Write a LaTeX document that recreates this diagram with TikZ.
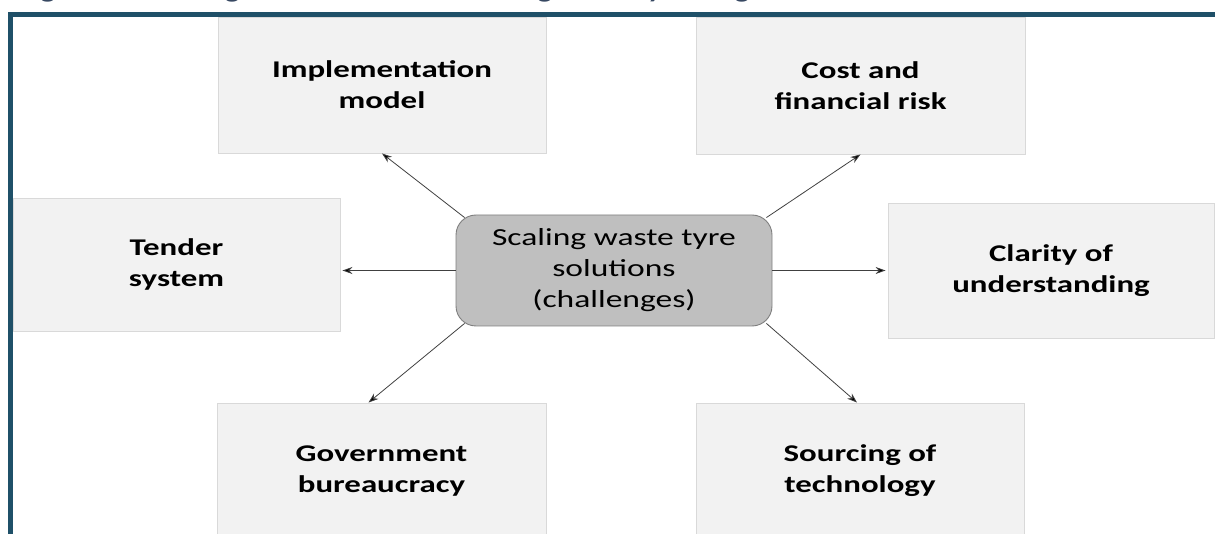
\documentclass[tikz,border=0pt]{standalone}
\usepackage{fontspec}
\setmainfont{Carlito}[FakeStretch=1.37]
\usetikzlibrary{arrows.meta}
\definecolor{frameteal}{RGB}{31,80,104}
\definecolor{titleslate}{RGB}{55,72,98}
\definecolor{boxfill}{RGB}{242,242,242}
\definecolor{boxline}{RGB}{217,217,217}
\definecolor{hubfill}{RGB}{191,191,191}
\definecolor{hubline}{RGB}{127,127,127}
\tikzset{
  topic/.style={draw=boxline, line width=0.9pt, fill=boxfill, align=center,
    inner sep=0pt, font=\fontsize{24}{31}\selectfont\bfseries},
  hub/.style={draw=hubline, line width=0.9pt, fill=hubfill, rounded corners=20pt,
    align=center, inner sep=0pt, minimum width=316pt, minimum height=111pt,
    font=\fontsize{24.5}{31}\selectfont},
  link/.style={draw=black!75, line width=0.8pt,
    -{Stealth[length=10pt,width=7pt,fill=black]}},
  frameline/.style={draw=frameteal, line width=4.5pt}
}
\begin{document}
\begin{tikzpicture}[x=1pt,y=1pt]
  \useasboundingbox (0,0) rectangle (1215,-534);
  \clip (0,0) rectangle (1215,-534);

  % caption strip above the frame
  \node[anchor=base west, inner sep=0pt, text=titleslate,
        font=\fontsize{21.5}{26}\selectfont\bfseries] (title) at (20,1)
    {Figure 8: Challenges associated with scaling waste tyre usage};

  % outer frame (top and left rules)
  \draw[frameline] (1220,-14.5) -- (10.3,-14.5) -- (10.3,-540);

  % surrounding topic boxes
  \node[topic, minimum width=328pt, minimum height=136pt] (impl) at (382,-85)
    {Implementation\\model};
  \node[topic, minimum width=329pt, minimum height=137pt] (cost) at (860.5,-85.5)
    {Cost and\\financial risk};
  \node[topic, minimum width=327pt, minimum height=133pt] (tender) at (176.5,-264.5)
    {Tender\\system};
  \node[topic, minimum width=326pt, minimum height=135pt] (clarity) at (1051,-270.5)
    {Clarity of\\understanding};
  \node[topic, minimum width=329pt, minimum height=136pt] (gov) at (381.5,-471)
    {Government\\bureaucracy};
  \node[topic, minimum width=328pt, minimum height=136pt] (src) at (860,-471)
    {Sourcing of\\technology};

  % central challenge node
  \node[hub] (c) at (614,-270.5) {Scaling waste tyre\\solutions\\(challenges)};

  % connectors
  \draw[link] ([xshift=9pt,yshift=-3pt]c.north west) -- (impl.south);
  \draw[link] ([xshift=-6pt,yshift=-3pt]c.north east) -- (cost.south);
  \draw[link, shorten >=2pt] (c.west) -- (c.west -| tender.east);
  \draw[link, shorten >=2pt] (c.east) -- (c.east -| clarity.west);
  \draw[link] ([xshift=9pt,yshift=3pt]c.south west) -- ([xshift=-13pt]gov.north);
  \draw[link] ([xshift=-6pt,yshift=3pt]c.south east) -- ([xshift=-3pt]src.north);
\end{tikzpicture}
\end{document}
